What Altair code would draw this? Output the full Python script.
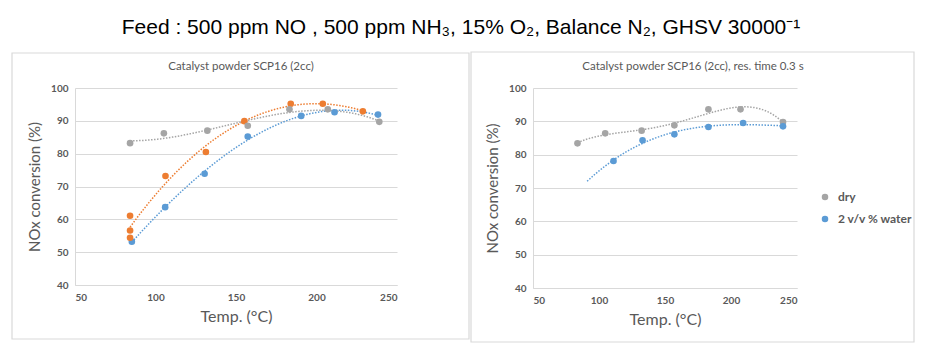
import altair as alt
import pandas as pd

# ---------------- data ----------------
# Left panel: residence times
t01_x = [85.3, 106.0, 130.5, 157.3, 190.5, 211.2, 238.2]
t01_y = [53.2, 63.7, 73.9, 85.2, 91.5, 92.6, 91.9]
t02_x = [84.2, 84.2, 84.2, 106.2, 131.3, 155.2, 184.0, 203.9, 228.8]
t02_y = [61.1, 56.6, 54.4, 73.2, 80.5, 89.9, 95.2, 95.2, 92.9]
t03_x = [84.2, 105.2, 132.2, 157.3, 183.2, 207.0, 239.0]
t03_y = [83.2, 86.2, 87.0, 88.5, 93.5, 93.5, 89.7]
left_series = ["0.1 s", "0.2 s", "0.3 s"]

# Right panel: dry vs water
dry_x = [83.7, 104.7, 132.3, 157.1, 182.9, 207.2, 239.4]
dry_y = [83.4, 86.4, 87.2, 88.8, 93.6, 93.6, 89.8]
wet_x = [111.0, 133.0, 157.1, 182.9, 209.2, 239.4]
wet_y = [78.1, 84.3, 86.1, 88.3, 89.5, 88.5]
right_series = ["dry", "2 v/v % water"]

x_ticks = [50, 100, 150, 200, 250]
y_ticks = [40, 50, 60, 70, 80, 90, 100]

main_title = "Feed : 500 ppm NO , 500 ppm NH\u2083, 15% O\u2082, Balance N\u2082, GHSV 30000\u207b\u00b9"
left_title = "Catalyst powder SCP16 (2cc)"
right_title = "Catalyst powder SCP16 (2cc), res. time 0.3 s"

BLUE, ORANGE, GRAY = "#5B9BD5", "#ED7D31", "#A5A5A5"
TXT = "#595959"
GRID = "#D9D9D9"
FONT = "Lato"

left_df = pd.concat([
    pd.DataFrame({"x": t01_x, "y": t01_y, "series": left_series[0]}),
    pd.DataFrame({"x": t02_x, "y": t02_y, "series": left_series[1]}),
    pd.DataFrame({"x": t03_x, "y": t03_y, "series": left_series[2]}),
], ignore_index=True)
dry_df = pd.DataFrame({"x": dry_x, "y": dry_y, "series": right_series[0]})
wet_df = pd.DataFrame({"x": wet_x, "y": wet_y, "series": right_series[1]})
right_df = pd.concat([dry_df, wet_df], ignore_index=True)

one = pd.DataFrame({"t": [""]})


def xenc():
    return alt.X("x:Q", scale=alt.Scale(domain=[50, 250], nice=False, zero=False),
                 axis=alt.Axis(values=x_ticks, title="Temp. (°C)", grid=False, ticks=False,
                               domain=True, domainColor=GRID, labelFont=FONT, labelFontSize=10,
                               labelFontWeight="bold", labelColor=TXT, labelPadding=7,
                               titleFont=FONT, titleFontSize=16, titleFontWeight="normal",
                               titleColor=TXT, titlePadding=6))


def yenc():
    return alt.Y("y:Q", scale=alt.Scale(domain=[40, 100], nice=False, zero=False),
                 axis=alt.Axis(values=y_ticks, title="NOx conversion (%)", grid=True,
                               gridColor=GRID, ticks=False, domain=True, domainColor=GRID,
                               labelFont=FONT, labelFontSize=10, labelFontWeight="bold",
                               labelColor=TXT, labelPadding=7, titleFont=FONT, titleFontSize=15,
                               titleFontWeight="normal", titleColor=TXT, titlePadding=8))


def frame(x1, x2, y1, y2):
    return alt.Chart(one).mark_rect(fill=None, stroke=GRID, strokeWidth=1.2).encode(
        x=alt.value(x1), x2=alt.value(x2), y=alt.value(y1), y2=alt.value(y2))


def label(txt, x, y, size, font=FONT, color=TXT):
    return alt.Chart(pd.DataFrame({"t": [txt]})).mark_text(
        font=font, fontSize=size, color=color, align="center", baseline="middle").encode(
        x=alt.value(x), y=alt.value(y), text="t:N")


# ---------------- left panel ----------------
LX0, LY0 = 75, 88
left_color = alt.Color("series:N", scale=alt.Scale(domain=left_series, range=[BLUE, ORANGE, GRAY]),
                       legend=alt.Legend(title=None, orient="none", legendX=345, legendY=93,
                                         labelFont=FONT, labelFontSize=12, labelFontWeight="bold",
                                         labelColor=TXT, symbolType="circle", symbolSize=42,
                                         rowPadding=9, labelOffset=7, padding=0))

bounds = alt.Chart(one).mark_rect(fill="white", opacity=0).encode(
    x=alt.value(-LX0), x2=alt.value(931 - LX0), y=alt.value(-LY0), y2=alt.value(347 - LY0))

left_trend = alt.Chart(left_df).transform_regression(
    "x", "y", groupby=["series"], method="poly", order=3).mark_line(
    strokeDash=[1.5, 1.5], strokeWidth=1.5).encode(
    x=xenc(), y=yenc(), color=alt.Color("series:N", legend=None))
left_pts = alt.Chart(left_df).mark_circle(size=44, opacity=1).encode(
    x=xenc(), y=yenc(), color=left_color)

left = alt.layer(
    bounds,
    frame(12 - LX0, 469 - LX0, 53 - LY0, 339 - LY0),
    label(main_title, 461 - LX0, 28 - LY0, 21, font="Liberation Sans", color="#000000"),
    label(left_title, 241 - LX0, 67 - LY0, 11.5),
    left_trend, left_pts,
).properties(width=322, height=197)

# ---------------- right panel ----------------
RX0 = 533
right_color = alt.Color("series:N", scale=alt.Scale(domain=right_series, range=[GRAY, BLUE]),
                        legend=alt.Legend(title=None, orient="none", legendX=286, legendY=103,
                                          labelFont=FONT, labelFontSize=12, labelFontWeight="bold",
                                          labelColor=TXT, symbolType="circle", symbolSize=42,
                                          rowPadding=10, labelOffset=7, padding=0))

dry_trend = alt.Chart(dry_df).transform_regression(
    "x", "y", method="poly", order=4).mark_line(
    strokeDash=[1.5, 1.5], strokeWidth=1.5, color=GRAY).encode(x=xenc(), y=yenc())
wet_trend = alt.Chart(wet_df).transform_regression(
    "x", "y", method="poly", order=3, extent=[91, 240]).mark_line(
    strokeDash=[1.5, 1.5], strokeWidth=1.5, color=BLUE).encode(x=xenc(), y=yenc())
right_pts = alt.Chart(right_df).mark_circle(size=44, opacity=1).encode(
    x=xenc(), y=yenc(), color=right_color)

right = alt.layer(
    frame(471 - RX0, 914 - RX0, 52 - LY0, 342 - LY0),
    label(right_title, 693 - RX0, 67 - LY0, 11.5),
    dry_trend, wet_trend, right_pts,
).properties(width=264, height=200).resolve_scale(color="independent")

chart = alt.hconcat(left, right, spacing=136, bounds="flush").resolve_scale(
    color="independent").properties(padding=0).configure_view(stroke=None)

chart.save("out.html", embed_options={"renderer": "svg", "actions": False})
